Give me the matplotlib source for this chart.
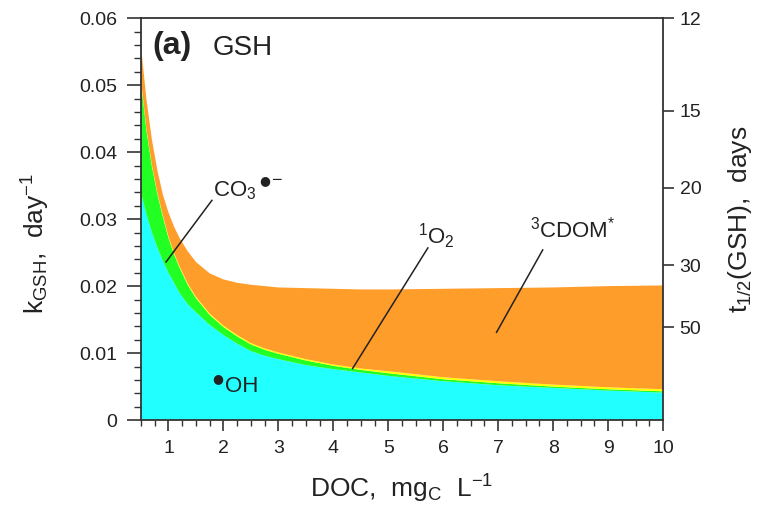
import numpy as np
import matplotlib
matplotlib.use("Agg")
from matplotlib import pyplot as plt
from matplotlib.ticker import MultipleLocator, FixedLocator

plt.rcParams['font.family'] = ['Liberation Sans', 'DejaVu Sans']
plt.rcParams['mathtext.fontset'] = 'custom'
plt.rcParams['mathtext.rm'] = 'Liberation Sans'
plt.rcParams['mathtext.it'] = 'Liberation Sans:italic'
plt.rcParams['mathtext.bf'] = 'Liberation Sans:bold'

# DOC, mgC/L
doc = [0.5, 0.6, 0.7, 0.8, 0.9, 1.0, 1.1, 1.2, 1.35, 1.5, 1.75, 2.0, 2.25, 2.5, 2.75,
       3.0, 3.5, 4.0, 4.5, 5.0, 6.0, 7.0, 8.0, 9.0, 10.0]

# GSH rate constants per pathway, day^-1
k_oh = [0.0339, 0.0307, 0.0280, 0.0257, 0.0237, 0.0220, 0.0205, 0.0190, 0.0173, 0.0161,
        0.0142, 0.0127, 0.0114, 0.0103, 0.0096, 0.0091, 0.0082, 0.0076, 0.0071, 0.0066,
        0.0058, 0.0052, 0.0048, 0.0044, 0.0041]
k_co3 = [0.0166, 0.0125, 0.0098, 0.0080, 0.0066, 0.0052, 0.0043, 0.0038, 0.0029, 0.0021,
         0.0015, 0.0012, 0.0011, 0.0010, 0.0009, 0.0008, 0.0007, 0.0005, 0.0004, 0.0004,
         0.0003, 0.0003, 0.0002, 0.0002, 0.0002]
k_1o2 = [0.0002, 0.0002, 0.0002, 0.0002, 0.0002, 0.0002, 0.0002, 0.0002, 0.0002, 0.0002,
         0.0002, 0.0002, 0.0002, 0.0002, 0.0002, 0.0002, 0.0002, 0.0002, 0.0002, 0.0003,
         0.0003, 0.0003, 0.0003, 0.0003, 0.0003]
k_total = [0.0558, 0.0478, 0.0418, 0.0372, 0.0336, 0.0310, 0.0289, 0.0272, 0.0252, 0.0236,
           0.0219, 0.0210, 0.0205, 0.0202, 0.0200, 0.0198, 0.0197, 0.0196, 0.0195, 0.0195,
           0.0196, 0.0197, 0.0198, 0.0200, 0.0201]
k_cdom = list(np.array(k_total) - np.array(k_oh) - np.array(k_co3) - np.array(k_1o2))

# half-life ticks on the right axis (top one = ln2/0.06, shown as "12")
half_life_ticks = [np.log(2) / 0.06, 15, 20, 30, 50]

colors = ["#22ffff", "#22ff22", "#ffff00", "#ff9d2a"]
axcol = "#333333"
txtcol = "#222222"

fig = plt.figure(figsize=(7.63, 5.18), dpi=100)
ax = fig.add_axes([0.1848, 0.189, 0.6842, 0.776])

ax.stackplot(doc, k_oh, k_co3, k_1o2, k_cdom, colors=colors, linewidth=0)

ax.set_xlim(0.5, 10)
ax.set_ylim(0, 0.06)

ax.xaxis.set_major_locator(MultipleLocator(1))
ax.xaxis.set_minor_locator(MultipleLocator(0.25))
ax.yaxis.set_major_locator(MultipleLocator(0.01))
ax.yaxis.set_minor_locator(MultipleLocator(0.002))
ax.set_yticklabels(["0" if abs(v) < 1e-9 else "%.2f" % v for v in ax.get_yticks()])

for s in ax.spines.values():
	s.set_color(axcol)
	s.set_linewidth(1.3)

ax.tick_params(axis="both", which="both", direction="out", color=axcol, labelcolor=txtcol, labelsize=14)
ax.tick_params(axis="x", which="major", length=8, width=1.2, pad=6)
ax.tick_params(axis="x", which="minor", length=4, width=1.0)
ax.tick_params(axis="y", which="major", length=10, width=1.2, pad=7)
ax.tick_params(axis="y", which="minor", length=5, width=1.0)

ax.set_xlabel(r"DOC,  mg$_{\rm C}$  L$^{-1}$", fontsize=19, color=txtcol)
ax.xaxis.set_label_coords(0.5, -0.13)
ax.set_ylabel(r"k$_{\rm GSH}$,  day$^{-1}$", fontsize=19, color=txtcol)
ax.yaxis.set_label_coords(-0.17, 0.44)

# right axis: half-life in days
ax2 = ax.twinx()
ax2.set_ylim(ax.get_ylim())
ax2.yaxis.set_major_locator(FixedLocator([np.log(2) / t for t in half_life_ticks]))
ax2.set_yticklabels(["%d" % round(t) for t in half_life_ticks])
ax2.yaxis.set_minor_locator(FixedLocator([]))
ax2.tick_params(axis="y", direction="out", length=8, width=1.2, pad=4, color=axcol, labelcolor=txtcol, labelsize=14)
for s in ax2.spines.values():
	s.set_visible(False)
ax2.set_ylabel(r"t$_{1/2}$(GSH),  days", fontsize=19, color=txtcol)
ax2.yaxis.set_label_coords(1.12, 0.5)

# panel title
ax.text(0.022, 0.93, "(a)", transform=ax.transAxes, fontsize=23, fontweight="bold", color=txtcol, va="center")
ax.text(0.137, 0.925, "GSH", transform=ax.transAxes, fontsize=20, color=txtcol, va="center")

# species labels with leader lines
lab = dict(fontsize=16, color=txtcol)
dot = dict(fontsize=9, color=txtcol, family=["DejaVu Sans"], ha="center", va="center")

ax.text(1.81, 0.0343, r"CO$_3$", ha="left", va="center", **lab)
ax.text(2.76, 0.0357, "\u25cf", **dot)
ax.text(2.86, 0.0358, "\u2212", ha="left", va="center", fontsize=13, color=txtcol)
ax.plot([1.79, 0.955], [0.0328, 0.0236], color=txtcol, lw=1.1)

ax.text(1.895, 0.0062, "\u25cf", **dot)
ax.text(2.02, 0.0050, "OH", ha="left", va="center", **lab)

ax.text(5.87, 0.0274, r"$^{1}$O$_2$", ha="center", va="center", **lab)
ax.plot([5.72, 4.35], [0.0257, 0.0077], color=txtcol, lw=1.1)

ax.text(8.36, 0.0285, r"$^{3}$CDOM$^{*}$", ha="center", va="center", **lab)
ax.plot([7.81, 6.97], [0.0254, 0.0131], color=txtcol, lw=1.1)

plt.savefig("out.png", dpi=100)
